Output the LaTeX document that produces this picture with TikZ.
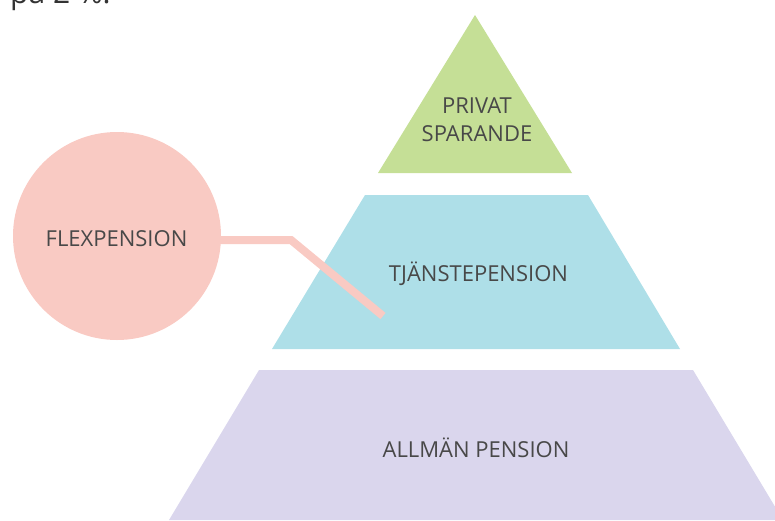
\documentclass[tikz,border=0pt]{standalone}
\usepackage{fontspec}
\setmainfont{Open Sans}
\definecolor{privatc}{HTML}{C5DF96}
\definecolor{tjanstc}{HTML}{AEDFE8}
\definecolor{allmanc}{HTML}{DAD6ED}
\definecolor{flexc}{HTML}{F9CAC3}
\definecolor{txtc}{HTML}{484848}
\definecolor{bodyc}{HTML}{333333}
\tikzset{
  lbl/.style={text=txtc, font=\fontsize{22}{28}\selectfont, inner sep=0pt, anchor=base},
  conn/.style={draw=flexc, line width=8pt},
}
\begin{document}
\begin{tikzpicture}[x=1pt,y=-1pt]
\useasboundingbox (0,0) rectangle (775,520);
\clip (0,0) rectangle (775,520);
% cropped body text
\node[text=bodyc, font=\fontsize{30}{36}\selectfont, inner sep=0pt, anchor=base west] (body) at (10,3) {på 2 \%.};
% pyramid
\fill[privatc] (475,15) -- (572,173) -- (378,173) -- cycle;
\fill[tjanstc] (365,195) -- (588,195) -- (680,349) -- (272,349) -- cycle;
\fill[allmanc] (259,370) -- (693,370) -- (783,520) -- (169,520) -- cycle;
% flexpension circle and connector
\node[circle, fill=flexc, minimum size=208pt, inner sep=0pt] (flex) at (117,236) {};
\coordinate (bend) at (291,240);
\coordinate (tip) at (383,316);
\draw[conn] (flex.center |- bend) -- (bend) -- (tip);
% labels
\node[lbl] (lflex) at (116.5,246) {FLEXPENSION};
\node[lbl, align=center] (lpriv) at (477,141) {PRIVAT\\SPARANDE};
\node[lbl] (ltj) at (478.5,281) {TJÄNSTEPENSION};
\node[lbl] (lall) at (476,457) {ALLMÄN PENSION};
\end{tikzpicture}
\end{document}
